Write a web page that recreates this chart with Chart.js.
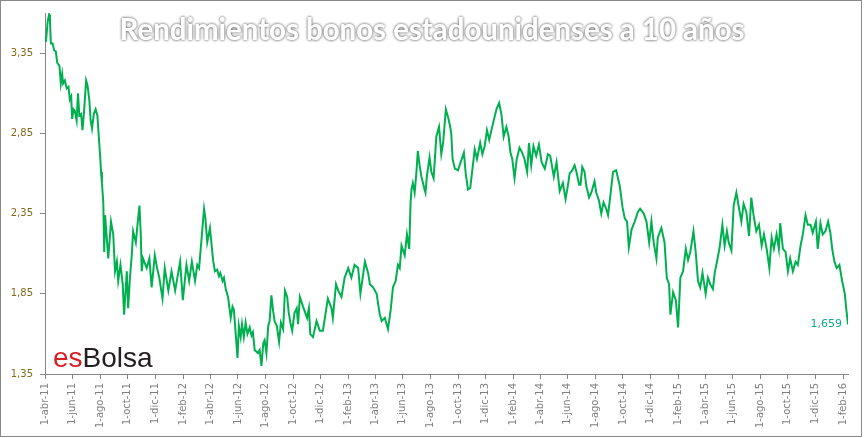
<!DOCTYPE html>
<html lang="es">
<head>
<meta charset="UTF-8" />
<title>Rendimientos bonos estadounidenses a 10 años</title>
<script src="https://cdn.jsdelivr.net/npm/chart.js"></script>
<style>
  html,body{margin:0;padding:0;background:#fff}
  #chart{display:block}
</style>
</head>
<body>
<canvas id="chart" width="864" height="438"></canvas>
<script>
/* ---------- Data ----------------------------------------------------- */
const titleText = 'Rendimientos bonos estadounidenses a 10 años';

const dates = [
  '2011-04-01','2011-04-03','2011-04-07','2011-04-10','2011-04-12','2011-04-14','2011-04-18','2011-04-21','2011-04-25','2011-04-28',
  '2011-05-03','2011-05-06','2011-05-09','2011-05-11','2011-05-15','2011-05-19','2011-05-23','2011-05-26','2011-05-29','2011-05-31',
  '2011-06-03','2011-06-06','2011-06-10','2011-06-13','2011-06-16','2011-06-20','2011-06-23','2011-06-26','2011-07-01','2011-07-04',
  '2011-07-08','2011-07-11','2011-07-14','2011-07-18','2011-07-22','2011-07-26','2011-07-29','2011-08-01','2011-08-03','2011-08-05',
  '2011-08-08','2011-08-10','2011-08-12','2011-08-19','2011-08-25','2011-08-30','2011-09-03','2011-09-07','2011-09-10','2011-09-15',
  '2011-09-20','2011-09-23','2011-09-29','2011-10-02','2011-10-06','2011-10-10','2011-10-13','2011-10-19','2011-10-22','2011-10-27',
  '2011-10-30','2011-11-01','2011-11-04','2011-11-12','2011-11-18','2011-11-23','2011-11-30','2011-12-05','2011-12-10','2011-12-17',
  '2011-12-22','2011-12-30','2012-01-06','2012-01-14','2012-01-25','2012-01-31','2012-02-08','2012-02-14','2012-02-20','2012-02-27',
  '2012-03-03','2012-03-07','2012-03-18','2012-03-21','2012-03-25','2012-03-31','2012-04-07','2012-04-11','2012-04-16','2012-04-20',
  '2012-04-23','2012-04-28','2012-05-01','2012-05-05','2012-05-10','2012-05-16','2012-05-20','2012-05-23','2012-05-31','2012-06-03',
  '2012-06-07','2012-06-10','2012-06-14','2012-06-18','2012-06-22','2012-06-27','2012-07-01','2012-07-04','2012-07-08','2012-07-15',
  '2012-07-19','2012-07-23','2012-07-27','2012-07-30','2012-08-03','2012-08-07','2012-08-10','2012-08-14','2012-08-18','2012-08-21',
  '2012-08-26','2012-08-31','2012-09-04','2012-09-09','2012-09-13','2012-09-18','2012-09-21','2012-09-25','2012-09-29','2012-10-04',
  '2012-10-09','2012-10-12','2012-10-16','2012-10-23','2012-11-01','2012-11-05','2012-11-08','2012-11-14','2012-11-22','2012-11-29',
  '2012-12-06','2012-12-12','2012-12-17','2012-12-25','2012-12-28','2013-01-04','2013-01-09','2013-01-16','2013-01-23','2013-01-31',
  '2013-02-07','2013-02-14','2013-02-22','2013-02-27','2013-03-09','2013-03-16','2013-03-20','2013-03-27','2013-04-04','2013-04-07',
  '2013-04-11','2013-04-15','2013-04-22','2013-04-29','2013-05-05','2013-05-10','2013-05-16','2013-05-21','2013-05-25','2013-05-29',
  '2013-06-05','2013-06-10','2013-06-15','2013-06-18','2013-06-20','2013-06-23','2013-06-27','2013-07-01','2013-07-04','2013-07-08',
  '2013-07-12','2013-07-19','2013-07-21','2013-07-24','2013-07-30','2013-08-03','2013-08-08','2013-08-14','2013-08-20','2013-08-25',
  '2013-08-29','2013-09-04','2013-09-09','2013-09-13','2013-09-16','2013-09-19','2013-09-24','2013-10-01','2013-10-08','2013-10-14',
  '2013-10-18','2013-10-23','2013-10-28','2013-11-02','2013-11-07','2013-11-12','2013-11-19','2013-11-24','2013-11-29','2013-12-04',
  '2013-12-09','2013-12-14','2013-12-19','2013-12-25','2013-12-31','2014-01-05','2014-01-10','2014-01-16','2014-01-21','2014-01-25',
  '2014-01-29','2014-02-03','2014-02-08','2014-02-14','2014-02-20','2014-02-25','2014-03-03','2014-03-07','2014-03-12','2014-03-17',
  '2014-03-23','2014-03-29','2014-04-04','2014-04-11','2014-04-18','2014-04-23','2014-05-01','2014-05-07','2014-05-14','2014-05-21',
  '2014-05-27','2014-06-02','2014-06-05','2014-06-11','2014-06-16','2014-06-20','2014-06-26','2014-06-29','2014-07-03','2014-07-08',
  '2014-07-12','2014-07-18','2014-07-23','2014-07-30','2014-08-03','2014-08-09','2014-08-14','2014-08-19','2014-08-25','2014-08-29',
  '2014-09-03','2014-09-09','2014-09-16','2014-09-24','2014-09-30','2014-10-05','2014-10-10','2014-10-14','2014-10-20','2014-10-27',
  '2014-11-03','2014-11-08','2014-11-16','2014-11-22','2014-11-28','2014-12-03','2014-12-08','2014-12-14','2014-12-17','2014-12-25',
  '2015-01-01','2015-01-06','2015-01-11','2015-01-14','2015-01-20','2015-01-26','2015-01-31','2015-02-05','2015-02-11','2015-02-17',
  '2015-02-22','2015-02-27','2015-03-06','2015-03-11','2015-03-16','2015-03-21','2015-03-26','2015-04-02','2015-04-07','2015-04-12',
  '2015-04-18','2015-04-22','2015-04-27','2015-05-03','2015-05-09','2015-05-14','2015-05-19','2015-05-23','2015-05-29','2015-06-03',
  '2015-06-09','2015-06-15','2015-06-20','2015-06-25','2015-07-01','2015-07-07','2015-07-12','2015-07-17','2015-07-23','2015-07-29',
  '2015-08-04','2015-08-09','2015-08-15','2015-08-21','2015-08-26','2015-08-31','2015-09-06','2015-09-11','2015-09-14','2015-09-20',
  '2015-09-26','2015-10-01','2015-10-06','2015-10-12','2015-10-18','2015-10-23','2015-10-29','2015-11-03','2015-11-09','2015-11-14',
  '2015-11-20','2015-11-25','2015-12-02','2015-12-06','2015-12-12','2015-12-17','2015-12-23','2015-12-29','2016-01-03','2016-01-07',
  '2016-01-12','2016-01-17','2016-01-23','2016-01-29','2016-02-04','2016-02-07','2016-02-11'
];

const yields = [
  3.45,3.42,3.55,3.59,3.55,3.41,3.41,3.37,3.36,3.29,
  3.27,3.16,3.22,3.16,3.18,3.13,3.14,3.06,3.08,2.94,
  3.00,2.99,2.93,3.10,2.96,2.97,2.87,2.97,3.18,3.15,
  3.06,2.93,2.88,2.97,3.00,2.96,2.83,2.71,2.61,2.54,
  2.42,2.11,2.34,2.07,2.30,2.22,1.99,2.05,1.93,2.03,
  1.91,1.72,1.99,1.76,1.95,2.09,2.24,2.17,2.26,2.40,
  2.22,1.99,2.07,2.01,2.07,1.89,2.09,2.01,1.95,1.82,
  2.01,1.87,1.99,1.87,2.05,1.81,2.03,1.93,2.05,1.93,
  2.03,2.01,2.38,2.32,2.17,2.26,2.06,1.99,2.00,1.96,
  1.98,1.93,1.95,1.88,1.83,1.70,1.77,1.75,1.45,1.65,
  1.58,1.66,1.58,1.67,1.60,1.64,1.59,1.61,1.50,1.48,
  1.50,1.40,1.54,1.56,1.48,1.65,1.68,1.84,1.74,1.68,
  1.65,1.55,1.67,1.63,1.87,1.83,1.74,1.67,1.62,1.73,
  1.76,1.66,1.83,1.77,1.70,1.76,1.60,1.58,1.68,1.62,
  1.62,1.73,1.82,1.76,1.70,1.91,1.87,1.83,1.95,2.01,
  1.95,2.03,2.01,1.85,2.05,1.98,1.91,1.89,1.85,1.79,
  1.72,1.68,1.70,1.63,1.75,1.89,1.93,2.03,2.01,2.15,
  2.09,2.22,2.13,2.42,2.50,2.54,2.48,2.61,2.74,2.65,
  2.58,2.50,2.48,2.58,2.70,2.61,2.57,2.83,2.89,2.72,
  2.79,3.00,2.95,2.90,2.85,2.69,2.63,2.62,2.68,2.73,
  2.60,2.50,2.51,2.63,2.75,2.69,2.79,2.72,2.77,2.87,
  2.81,2.87,2.93,3.00,3.04,2.97,2.83,2.89,2.83,2.73,
  2.69,2.57,2.69,2.76,2.73,2.69,2.61,2.79,2.65,2.77,
  2.71,2.78,2.67,2.63,2.72,2.71,2.58,2.67,2.49,2.54,
  2.44,2.54,2.60,2.62,2.65,2.61,2.53,2.53,2.64,2.61,
  2.52,2.45,2.48,2.55,2.48,2.43,2.35,2.42,2.38,2.34,
  2.46,2.61,2.62,2.52,2.39,2.32,2.30,2.14,2.25,2.30,
  2.36,2.38,2.35,2.30,2.17,2.30,2.17,2.07,2.20,2.26,
  2.17,1.95,1.91,1.72,1.86,1.81,1.64,1.95,1.99,2.13,
  2.06,2.11,2.24,2.11,1.93,1.89,1.98,1.85,1.95,1.91,
  1.88,1.98,2.05,2.14,2.28,2.15,2.24,2.17,2.12,2.40,
  2.48,2.38,2.30,2.41,2.36,2.21,2.45,2.34,2.24,2.28,
  2.15,2.22,2.13,2.01,2.20,2.13,2.22,2.13,2.29,2.13,
  2.11,1.99,2.07,1.99,2.05,2.03,2.15,2.22,2.34,2.28,
  2.28,2.23,2.30,2.13,2.29,2.22,2.24,2.30,2.23,2.13,
  2.05,2.01,2.03,1.93,1.85,1.76,1.659
];

const tickLabels = [
  '1-abr-11','1-jun-11','1-ago-11','1-oct-11','1-dic-11','1-feb-12','1-abr-12','1-jun-12','1-ago-12','1-oct-12',
  '1-dic-12','1-feb-13','1-abr-13','1-jun-13','1-ago-13','1-oct-13','1-dic-13','1-feb-14','1-abr-14','1-jun-14',
  '1-ago-14','1-oct-14','1-dic-14','1-feb-15','1-abr-15','1-jun-15','1-ago-15','1-oct-15','1-dic-15','1-feb-16'
];
const yTicks = [1.35, 1.85, 2.35, 2.85, 3.35];
const yMin = 1.35, yMax = 3.6;

/* ---------- Helpers ---------------------------------------------------- */
const months = {ene:0,feb:1,mar:2,abr:3,may:4,jun:5,jul:6,ago:7,sep:8,oct:9,nov:10,dic:11};
const dayNum = (s)=>{const [y,m,d]=s.split('-').map(Number); return Date.UTC(y,m-1,d)/86400000;};
const tickDay = (lbl)=>{const [d,m,y]=lbl.split('-'); return Date.UTC(2000+Number(y),months[m],Number(d))/86400000;};

const points = dates.map((d,i)=>({x:dayNum(d), y:yields[i]}));
const tickValues = tickLabels.map(tickDay);
const fmt = (v,dp)=>v.toFixed(dp).replace('.',',');

/* ---------- Extra drawing: frame, title, logo, last value -------------- */
const overlay = {
  id:'overlay',
  afterDraw(c){
    const g = c.ctx;
    g.save();
    g.strokeStyle = '#898989'; g.lineWidth = 1;
    g.strokeRect(0.5,0.5,861,436);

    // title: white with a soft grey glow
    g.font = 'bold 30px Lato';
    g.textAlign = 'center'; g.textBaseline = 'alphabetic';
    const w = g.measureText(titleText).width;
    g.translate(432,40); g.scale(625/w,1);
    g.shadowColor = 'rgba(0,0,0,0.45)'; g.shadowBlur = 3;
    g.fillStyle = '#ffffff';
    g.fillText(titleText,0,0); g.fillText(titleText,0,0);
    g.restore();

    // logo
    g.save();
    g.font = '28px "Liberation Sans"'; g.textAlign = 'left'; g.textBaseline = 'alphabetic';
    g.fillStyle = '#d91f26'; g.fillText('es',53,367);
    const ew = g.measureText('es').width;
    g.fillStyle = '#231f20'; g.fillText('Bolsa',53+ew,367);

    // last value label
    const last = points[points.length-1];
    const px = c.scales.x.getPixelForValue(last.x), py = c.scales.y.getPixelForValue(last.y);
    g.font = '11px "DejaVu Sans"'; g.textAlign = 'right'; g.textBaseline = 'middle';
    g.fillStyle = '#12a88c';
    g.fillText(fmt(last.y,3), px-6, py);
    g.restore();
  }
};

/* ---------- Chart ------------------------------------------------------ */
const axisColor = '#868686';
new Chart(document.getElementById('chart').getContext('2d'),{
  type:'line',
  data:{datasets:[{
    label:'Rendimiento 10 años',
    data:points,
    borderColor:'#00B050', borderWidth:2, pointRadius:0, tension:0, fill:false
  }]},
  options:{
    responsive:false, animation:false,
    layout:{padding:{left:0,right:16,top:8,bottom:0}},
    plugins:{legend:{display:false}, tooltip:{enabled:false}},
    scales:{
      x:{
        type:'linear',
        min:points[0].x, max:points[points.length-1].x,
        afterBuildTicks:(s)=>{s.ticks = tickValues.map(v=>({value:v}));},
        afterFit:(s)=>{s.height = 64;},
        ticks:{autoSkip:false, minRotation:90, maxRotation:90, padding:4,
               color:'#808080', font:{family:'DejaVu Sans', size:10},
               callback:(v,i)=>tickLabels[i]},
        grid:{drawOnChartArea:false, drawTicks:true, tickLength:5, color:axisColor},
        border:{color:axisColor, width:1}
      },
      y:{
        min:yMin, max:yMax,
        afterBuildTicks:(s)=>{s.ticks = yTicks.map(v=>({value:v}));},
        afterFit:(s)=>{s.width = 45;},
        ticks:{padding:7, color:'#7f6a1a', font:{family:'DejaVu Sans', size:10},
               callback:(v)=>fmt(v,2)},
        grid:{drawOnChartArea:false, drawTicks:true, tickLength:5, color:axisColor},
        border:{color:axisColor, width:1}
      }
    }
  },
  plugins:[overlay]
});
</script>
</body>
</html>
